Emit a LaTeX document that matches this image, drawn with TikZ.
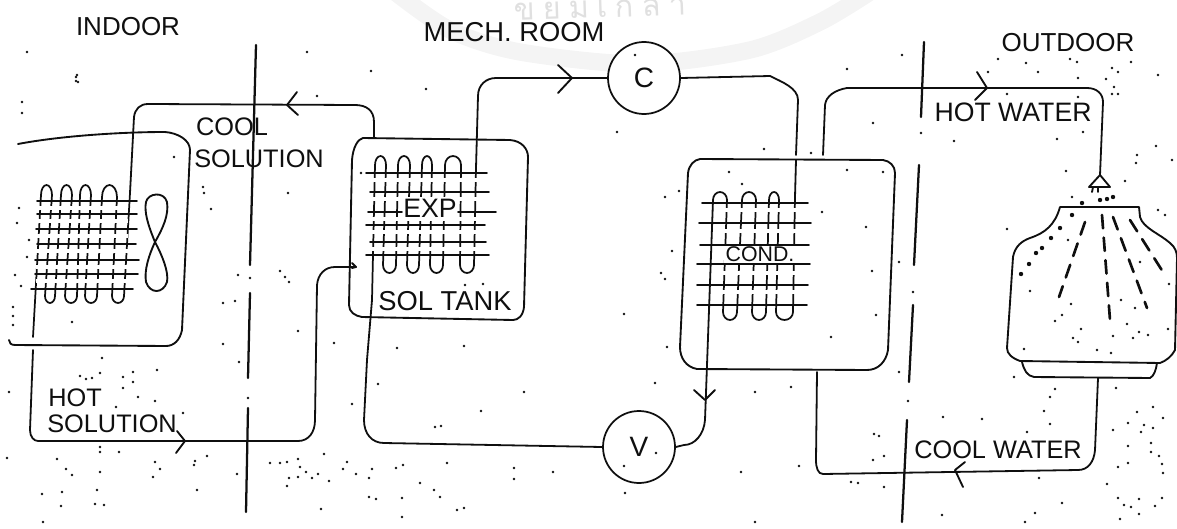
\documentclass[tikz,border=0pt]{standalone}
\usepackage{fontspec}
\setmainfont{Liberation Sans}
\newfontfamily\thaifont[Script=Thai]{Loma}
\definecolor{ink}{gray}{0.06}
\tikzset{
 x=0.75pt,y=-0.75pt,
 pipe/.style={draw=ink,line width=1.35pt,line join=round,line cap=round},
 coil/.style={draw=ink,line width=1.3pt,line cap=round,line join=round},
 fin/.style={draw=ink,line width=1.3pt,line cap=round},
 gapline/.style={draw=white,line width=2.6pt},
 divider/.style={draw=ink,line width=1.7pt,line cap=round},
 wall/.style={draw=ink,line width=1.4pt,line cap=round,line join=round},
 barb/.style={draw=ink,line width=1.4pt,line cap=round,line join=round},
 lab/.style={text=ink,inner sep=0pt,font=\fontsize{19}{19}\selectfont},
 biglab/.style={text=ink,inner sep=0pt,font=\fontsize{19.5}{19.5}\selectfont},
 equip/.style={circle,draw=ink,line width=1.3pt,minimum size=54pt,inner sep=0pt,fill=white,font=\fontsize{21}{21}\selectfont,text=ink},
 spray/.style={draw=ink,line width=2pt,line cap=round,dash pattern=on 10pt off 7pt},
 speck/.style={fill=ink},
}
\begin{document}
\begin{tikzpicture}
\useasboundingbox (0,0) rectangle (1177,528);
% watermark
\begin{scope}
\clip (0,0) rectangle (1177,528);
\draw[gray!9,line width=13pt] plot[smooth] coordinates {(395,-8) (450,30) (520,52) (640,64) (750,50) (820,22) (870,-8)};
\node[text=gray!24,inner sep=0pt,font=\thaifont\fontsize{23}{23}\selectfont\addfontfeature{LetterSpace=26},rotate=2] (wm) at (600,5) {ขยมเกล้า};
\end{scope}
% dividers
\coordinate (a1) at (256,45); \coordinate (a2) at (250,265);
\coordinate (a3) at (250,293); \coordinate (a4) at (248,378);
\coordinate (a5) at (248,408); \coordinate (a6) at (246,512);
\draw[divider] (a1)--(a2) (a3)--(a4) (a5)--(a6);
\coordinate (b1) at (924,42); \coordinate (b2) at (921,117);
\coordinate (b3) at (919,165); \coordinate (b4) at (914,265);
\coordinate (b5) at (913,305); \coordinate (b6) at (909,382);
\coordinate (b7) at (907,420); \coordinate (b8) at (902,522);
\draw[divider] (b1)--(b2) (b3)--(b4) (b5)--(b6) (b7)--(b8);
% indoor unit casing
\draw[wall] (18,144) .. controls (60,136) and (120,132) .. (165,132) .. controls (178,133) and (190,140) .. (190,150)
  -- (182,330) .. controls (180,340) and (174,346) .. (166,346) -- (15,345) .. controls (11,345) and (9,343) .. (9,340);
% indoor coil
\draw[coil] (33,337) -- (41,195) arc[start angle=180,end angle=360,x radius=5.5,y radius=10]
 -- (45,296) arc[start angle=180,end angle=0,x radius=5,y radius=7]
 -- (61,195) arc[start angle=180,end angle=360,x radius=5.5,y radius=10]
 -- (65,296) arc[start angle=180,end angle=0,x radius=6,y radius=7]
 -- (80,195) arc[start angle=180,end angle=360,x radius=5.5,y radius=10]
 -- (85,296) arc[start angle=180,end angle=0,x radius=6,y radius=7]
 -- (102,197) arc[start angle=180,end angle=360,x radius=7.5,y radius=12]
 -- (112,296) arc[start angle=180,end angle=0,x radius=6,y radius=7]
 -- (130,193);
\foreach \yy in {208,221,236,251,267,281}{\draw[gapline] (36,\yy) -- (128,\yy);}
\foreach \yy/\xa/\xb in {201/37/137,214/37/137,229/36/137,244/37/136,260/35/139,274/35/138,289/31/133}{\draw[fin] (\xa,\yy) -- (\xb,\yy);}
% fan
\draw[wall] (155,242) .. controls (148,225) and (144,212) .. (146,202) .. controls (148,193) and (164,191) .. (167,202) .. controls (169,215) and (163,228) .. (155,242)
 .. controls (162,255) and (169,272) .. (167,282) .. controls (163,294) and (150,294) .. (146,282) .. controls (144,270) and (149,255) .. (155,242);
% solution tank
\draw[wall] (363,138) -- (510,140) .. controls (522,141) and (528,149) .. (528,157) -- (524,307)
 .. controls (523,316) and (518,320) .. (513,320) -- (362,317) .. controls (355,316) and (349,312) .. (349,305) -- (352,160) .. controls (353,147) and (358,139) .. (363,138);
% tank coil
\draw[coil] (372,300) -- (375,165) arc[start angle=180,end angle=360,x radius=5.5,y radius=9]
 -- (383,265) arc[start angle=180,end angle=0,x radius=6.5,y radius=8]
 -- (398,165) arc[start angle=180,end angle=360,x radius=6,y radius=9]
 -- (407,265) arc[start angle=180,end angle=0,x radius=6,y radius=8]
 -- (422,165) arc[start angle=180,end angle=360,x radius=5,y radius=9]
 -- (430,265) arc[start angle=180,end angle=0,x radius=6.5,y radius=8]
 -- (445,165) arc[start angle=180,end angle=360,x radius=8,y radius=9]
 -- (460,265) arc[start angle=180,end angle=0,x radius=7,y radius=8]
 -- (476,168);
\foreach \yy in {180,199,219,232,249}{\draw[gapline] (370,\yy) -- (478,\yy);}
\foreach \yy/\xa/\xb in {173/366/487,192/370/489,212/368/402,212/458/496,225/366/485,242/370/486,255/366/489}{\draw[fin] (\xa,\yy) -- (\xb,\yy);}
\node[lab,fill=white,font=\fontsize{20}{20}\selectfont,inner sep=0.5pt] (exp) at (430,208) {EXP};
\node[lab,font=\fontsize{20.5}{20.5}\selectfont] (soltank) at (445,301) {SOL TANK};
% condenser box
\draw[wall] (700,159) -- (883,160) .. controls (890,161) and (895,166) .. (895,173) -- (888,350)
 .. controls (886,362) and (878,370) .. (867,370) -- (697,369) .. controls (686,367) and (680,358) .. (680,347) -- (688,173) .. controls (689,165) and (694,160) .. (700,159);
% condenser coil
\draw[coil] (713,200) arc[start angle=180,end angle=360,x radius=7,y radius=8]
 -- (723,312) arc[start angle=180,end angle=0,x radius=7,y radius=8]
 -- (742,200) arc[start angle=180,end angle=360,x radius=7,y radius=8]
 -- (752,312) arc[start angle=180,end angle=0,x radius=7,y radius=8]
 -- (769,200) arc[start angle=180,end angle=360,x radius=5,y radius=8]
 -- (776,312) arc[start angle=180,end angle=0,x radius=8.5,y radius=8]
 -- (795,197);
\foreach \yy in {210,231,273,292}{\draw[gapline] (716,\yy) -- (796,\yy);}
\node[lab,fill=white,font=\fontsize{16}{16}\selectfont,inner sep=1pt] (cond) at (760,254) {COND.};
\foreach \yy/\xa/\xb in {203/702/808,223/699/811,245/700/809,264/697/810,285/697/808,305/697/807}{\draw[fin] (\xa,\yy) -- (\xb,\yy);}
% equipment
\node[equip] (C) at (644,78) {C};
\node[equip] (V) at (639,447) {V};
% pipes
\coordinate (coolin) at (130,193);
\coordinate (cooltop) at (374,138);
\draw[pipe] (coolin) -- (134,117) .. controls (135,109) and (140,104) .. (148,104) -- (355,105) .. controls (366,105) and (374,110) .. (374,122) -- (cooltop);
\coordinate (hot1) at (33,350);
\coordinate (hot2) at (356,267);
\draw[pipe] (hot1) -- (30,430) .. controls (30,437) and (34,441) .. (38,441) -- (298,441) .. controls (309,441) and (315,432) .. (315,420) -- (317,285) .. controls (318,274) and (325,267) .. (335,267) -- (hot2);
\coordinate (exp1) at (476,168);
\draw[pipe] (exp1) -- (478,96) .. controls (478,85) and (486,78) .. (496,78) -- (C.west);
\coordinate (cond1) at (795,197);
\draw[pipe] (cond1) -- (796,160);
\draw[pipe] (C.east) -- (770,76) .. controls (782,82) and (798,88) .. (798,100) -- (796,155);
\coordinate (tank1) at (372,300);
\draw[pipe] (tank1) -- (367,360) -- (364,420) .. controls (364,434) and (372,443) .. (384,443) -- (V.west);
\coordinate (cond2) at (713,200);
\draw[pipe] (cond2) -- (705,420) .. controls (704,434) and (695,445) .. (684,445) -- (V.east);
\coordinate (hw1) at (823,155);
\draw[pipe] (hw1) -- (825,105) .. controls (826,96) and (835,90) .. (847,88) -- (1087,88) .. controls (1097,88) and (1103,94) .. (1103,102) -- (1100,175);
\coordinate (cw1) at (817,372);
\draw[pipe] (cw1) -- (816,460) .. controls (816,468) and (818,474) .. (823,474) -- (1078,470) .. controls (1088,470) and (1094,462) .. (1095,450) -- (1098,378);
% arrowheads
\draw[barb] (297,92) -- (287,105) -- (298,115);
\draw[barb] (558,65) -- (572,78) -- (558,93);
\draw[barb] (177,431) -- (185,441) -- (176,453);
\draw[barb] (694,390) -- (705,400) -- (715,390);
\draw[barb] (977,72) -- (987,88) -- (975,100);
\draw[barb] (965,462) -- (955,470) -- (963,487);
\draw[barb] (352,263) -- (356,267) -- (352,268);
% tower
\draw[wall] (1060,207) -- (1139,207) -- (1140,217) .. controls (1143,228) and (1160,234) .. (1170,243) .. controls (1175,247) and (1177,252) .. (1177,258)
 -- (1175,350) .. controls (1172,356) and (1166,361) .. (1160,363) -- (1020,361) .. controls (1012,358) and (1007,354) .. (1007,348) -- (1013,257)
 .. controls (1015,246) and (1022,241) .. (1030,238) .. controls (1045,233) and (1055,225) .. (1060,207);
\draw[wall] (1022,362) .. controls (1024,370) and (1027,376) .. (1034,377) -- (1150,378) .. controls (1154,376) and (1156,370) .. (1157,363);
% nozzle
\draw[wall] (1100,175) -- (1089,187) -- (1110,187) -- cycle;
\draw[wall] (1093,187) -- (1092,192) (1098,187) -- (1098,192);
% sprays
\draw[spray] (1085,222) -- (1059,297);
\draw[spray] (1102,215) -- (1110,320);
\draw[spray] (1113,217) -- (1147,308);
\draw[spray] (1130,220) -- (1163,272);
\foreach \xx/\yy in {1072/215,1060/228,1051/238,1042/248,1036/253,1029/264,1021/274,1100/200,1107/199,1113/197,1082/203}{\fill[speck] (\xx,\yy) circle[radius=2.2];}
% labels
\node[biglab] (indoor) at (128,27) {INDOOR};
\node[biglab,font=\fontsize{20.5}{20.5}\selectfont] (mech) at (514,32) {MECH. ROOM};
\node[biglab] (outdoor) at (1068,43) {OUTDOOR};
\node[lab] (cool) at (232,127) {COOL};
\node[lab] (sol1) at (259,159) {SOLUTION};
\node[lab,anchor=west] (hot) at (48,398) {HOT};
\node[lab,anchor=west] (sol2) at (47,424) {SOLUTION};
\node[lab,font=\fontsize{20}{20}\selectfont] (hotw) at (1013,112) {HOT WATER};
\node[lab] (coolw) at (998,450) {COOL WATER};
% specks
\foreach \xx/\yy in {77/75,78/82,22/102,22/113,174/157,203/187,204/193,211/209,288/193,19/208,29/240,27/257,21/286,13/307,13/316,13/325,72/322,223/344,102/358,298/331,223/303,235/301,238/275,280/271,285/277,289/282,17/223,15/275,
371/71,426/89,617/132,465/285,483/284,624/314,334/343,397/348,464/346,361/173,
847/69,873/123,764/149,811/153,729/172,742/184,847/170,883/172,822/212,866/227,679/191,665/197,672/251,661/273,665/279,872/271,899/262,876/315,831/337,667/347,
902/55,998/59,1026/63,988/72,1038/72,1077/62,1078/78,1070/59,1112/68,1118/72,1131/62,1106/79,1114/87,1112/94,1118/94,1158/75,1078/97,1007/94,1083/132,1057/139,954/141,1156/146,1137/155,1136/163,1172/160,1066/171,1125/181,1072/197,1158/210,1165/215,1007/229,1068/240,1140/262,1169/284,1030/291,1071/304,1121/300,1135/308,1062/315,1055/321,1127/324,1081/329,1139/332,1133/338,1148/335,1168/329,1113/336,1073/338,1078/342,1097/350,1111/353,1024/349,1014/377,1055/389,1050/397,1116/388,1044/411,1050/424,943/417,982/419,1027/432,1137/412,1153/407,1163/418,1128/423,1144/425,1153/428,1141/432,1113/430,1151/443,1128/446,1151/452,1159/456,1128/463,1118/467,1162/464,1163/473,1039/478,1107/484,1118/498,1139/499,1162/498,1124/505,1131/507,1155/506,1139/514,1062/503,1035/513,942/515,1025/522,1120/519,
239/362,80/376,86/379,92/378,100/373,123/377,133/372,133/382,123/388,157/370,9/392,138/397,155/401,116/407,183/413,100/447,100/452,119/452,7/458,57/459,66/469,72/475,100/472,155/462,160/469,153/477,195/461,194/465,207/456,237/474,42/494,62/492,97/490,197/490,61/506,95/504,104/505,43/522,
378/384,352/404,270/463,280/463,287/462,298/459,324/454,300/467,306/472,318/474,289/478,298/477,312/478,329/481,287/486,347/462,343/469,356/474,372/469,369/478,369/497,376/499,321/509,396/468,
524/392,655/383,755/392,791/387,481/411,435/427,441/426,656/453,624/466,447/463,514/468,514/479,553/472,625/493,741/472,799/466,899/372,874/434,879/436,884/456,873/460,851/482,858/483,884/487,755/522,403/465,420/483,434/490,440/497,402/498,402/517,457/510,464/508,
27/52,76/77,76/81,307/52,317/96,635/55,
250/278,248/398,921/133,913/292,908/401}{\fill[speck] (\xx,\yy) circle[radius=1.3];}
\end{tikzpicture}
\end{document}
